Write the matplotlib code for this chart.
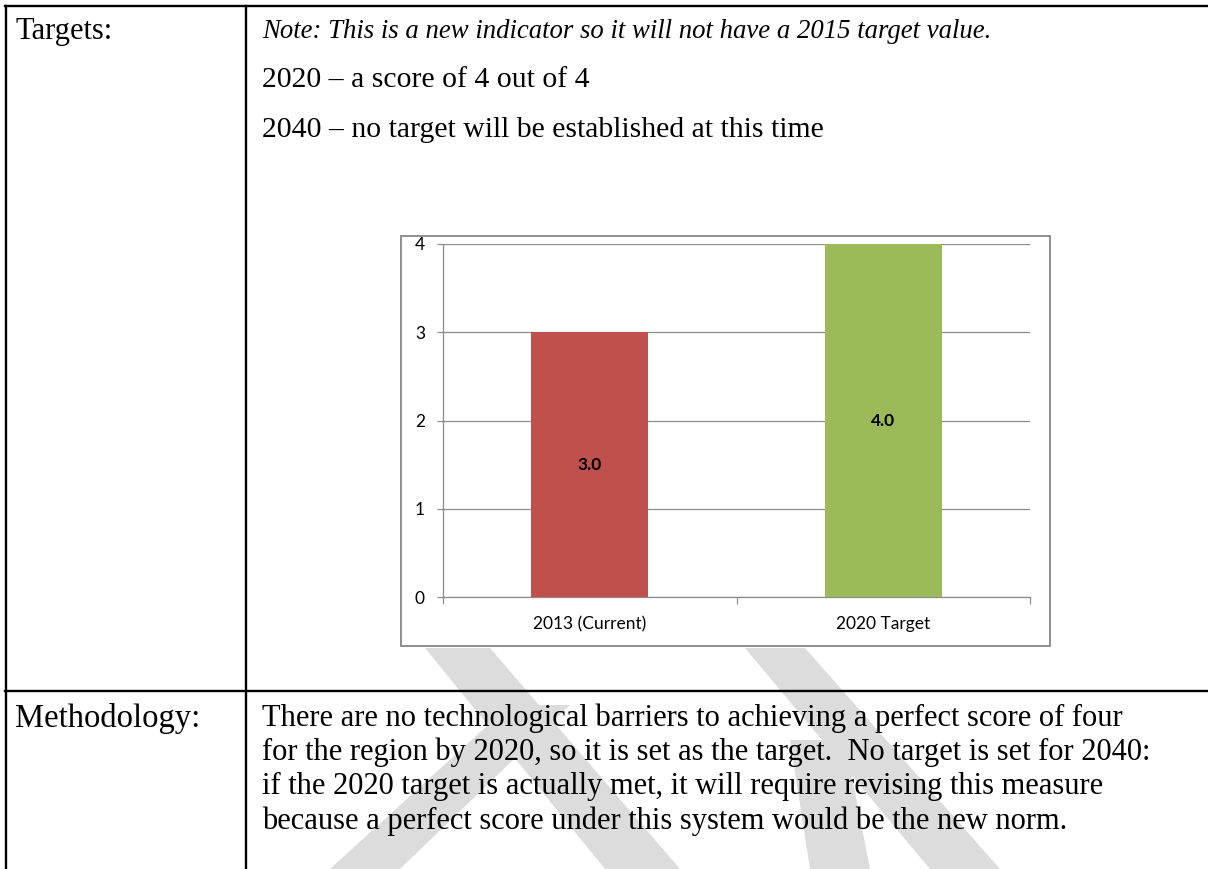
import matplotlib
matplotlib.use("Agg")
from matplotlib import pyplot as plt
from matplotlib.patches import Polygon, Rectangle

# chart data
categories = ["2013 (Current)", "2020 Target"]
scores = [3.0, 4.0]
bar_colors = ["#C0504D", "#9BBB59"]
y_ticks = [0, 1, 2, 3, 4]

# document text
row1_label = "Targets:"
row1_note = "Note: This is a new indicator so it will not have a 2015 target value."
row1_lines = ["2020 \u2013 a score of 4 out of 4",
              "2040 \u2013 no target will be established at this time"]
row2_label = "Methodology:"
row2_lines = ["There are no technological barriers to achieving a perfect score of four",
              "for the region by 2020, so it is set as the target.  No target is set for 2040:",
              "if the 2020 target is actually met, it will require revising this measure",
              "because a perfect score under this system would be the new norm."]

W, H = 1208, 869
fig = plt.figure(figsize=(W / 100, H / 100), dpi=100)

# page layer, pixel coordinates
page = fig.add_axes([0, 0, 1, 1])
page.set_xlim(0, W)
page.set_ylim(H, 0)
page.axis("off")

# faint watermark bands
wm = "#dcdcdc"
bands = [
    [(425, 648), (490, 648), (680, 869), (605, 869)],
    [(510, 705), (570, 705), (400, 869), (330, 869)],
    [(745, 648), (805, 648), (1000, 869), (930, 869)],
    [(790, 740), (845, 740), (870, 869), (810, 869)],
]
for b in bands:
    page.add_patch(Polygon(b, closed=True, facecolor=wm, edgecolor="none", zorder=0))

# table rules
lw = 1.7
page.plot([5, W], [6, 6], color="black", lw=lw, zorder=3)
page.plot([5, W], [691, 691], color="black", lw=lw, zorder=3)
page.plot([6, 6], [6, H], color="black", lw=lw, zorder=3)
page.plot([246, 246], [6, H], color="black", lw=lw, zorder=3)

serif = "Liberation Serif"
page.text(15, 31, row1_label, fontsize=22, family=serif, va="center", zorder=4)
page.text(262, 31, row1_note, fontsize=19.3, family=serif, style="italic", va="center", zorder=4)
for i, line in enumerate(row1_lines):
    page.text(262, 80 + 50 * i, line, fontsize=21.4, family=serif, va="center", zorder=4)

page.text(15, 718, row2_label, fontsize=23.5, family=serif, va="center", zorder=4)
for i, line in enumerate(row2_lines):
    page.text(262, 718 + 34.3 * i, line, fontsize=22, family=serif, va="center", zorder=4)

# chart frame
page.add_patch(Rectangle((401, 236), 649, 410, facecolor="white",
                         edgecolor="#868686", lw=1.3, zorder=2))

# the bar chart itself
ax = fig.add_axes([443 / W, (H - 597) / H, 587 / W, 353 / H])
ax.set_facecolor("none")
x = range(len(categories))
bars = ax.bar(x, scores, width=0.4, color=bar_colors, zorder=3)
ax.set_xlim(-0.5, len(categories) - 0.5)
ax.set_ylim(0, 4)
ax.set_yticks(y_ticks)
ax.set_xticks(list(x))
ax.set_xticklabels(categories)
ax.set_xticks([-0.5, 0.5, 1.5], minor=True)
ax.grid(axis="y", color="#8c8c8c", lw=0.9, zorder=1)
for s in ["top", "right"]:
    ax.spines[s].set_visible(False)
for s in ["left", "bottom"]:
    ax.spines[s].set_color("#8c8c8c")
    ax.spines[s].set_linewidth(0.9)
ax.tick_params(axis="x", which="major", length=0, pad=14)
ax.tick_params(axis="x", which="minor", length=5, color="#8c8c8c", width=0.9)
ax.tick_params(axis="y", length=4, color="#8c8c8c", width=0.9, pad=9)
for lab in ax.get_xticklabels() + ax.get_yticklabels():
    lab.set_family("Lato")
    lab.set_fontsize(12.5)

for rect, v in zip(bars, scores):
    ax.text(rect.get_x() + rect.get_width() / 2, v / 2, f"{v:.1f}",
            ha="center", va="center", fontsize=12.5, fontweight="bold",
            family="Lato", zorder=4)

fig.savefig("out.png", dpi=100)
